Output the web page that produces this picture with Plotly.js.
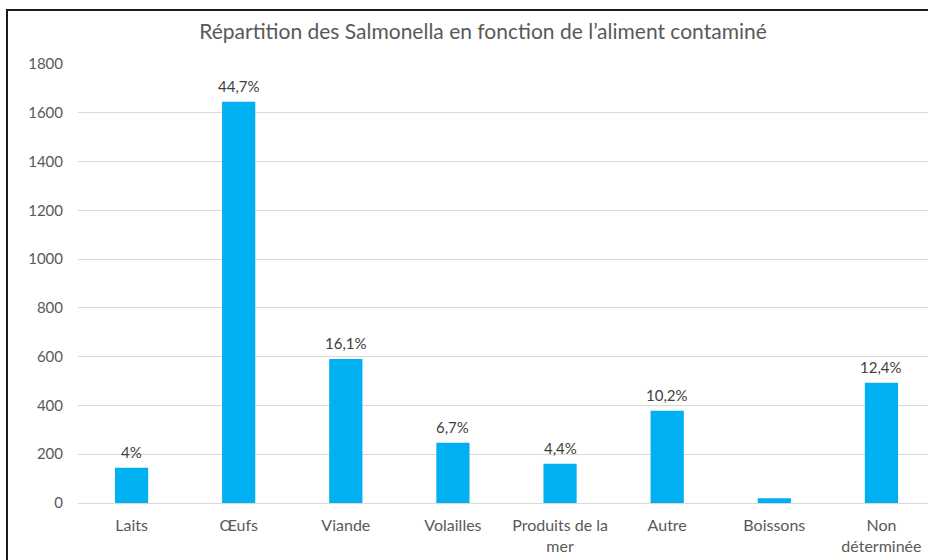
<!DOCTYPE html>
<html><head><meta charset="utf-8">
<script src="https://cdn.plot.ly/plotly-3.0.1.min.js"></script>
<style>
html,body{margin:0;padding:0;overflow:hidden;background:#fff;width:928px;height:560px;}
#chart{position:absolute;left:0;top:0;width:935px;height:560px;}
#frame{position:absolute;left:6px;top:9px;width:940px;height:600px;border-left:2px solid #1a1a1a;border-top:2px solid #1a1a1a;pointer-events:none;}
</style></head>
<body>
<div id="chart"></div>
<div id="frame"></div>
<script>
const categories = ["Laits", "Œufs", "Viande", "Volailles", "Produits de la<br>mer", "Autre", "Boissons", "Non<br>déterminée"];
const counts = [145, 1645, 590, 247, 161, 378, 19, 493];
const labels = ["4%", "44,7%", "16,1%", "6,7%", "4,4%", "10,2%", "", "12,4%"];
const yTicks = [0, 200, 400, 600, 800, 1000, 1200, 1400, 1600, 1800];

const font = "Lato, 'Open Sans', sans-serif";
const xs = categories.map((c, i) => i);
const annotations = labels.map((t, i) => ({
  x: xs[i], y: counts[i], xref: 'x', yref: 'y', text: t, showarrow: false,
  xanchor: 'center', yanchor: 'bottom', yshift: 5,
  font: {family: font, size: 15, color: '#404040'}
})).filter(a => a.text !== "");

Plotly.newPlot('chart', [{
  type: 'bar',
  x: xs,
  y: counts,
  marker: {color: '#00B0F0'},
  hoverinfo: 'none'
}], {
  width: 935, height: 560,
  margin: {l: 78, r: 0, t: 64, b: 57},
  paper_bgcolor: '#fff', plot_bgcolor: '#fff',
  bargap: 0.69,
  showlegend: false,
  annotations: annotations,
  title: {text: "Répartition des Salmonella en fonction de l’aliment contaminé",
          font: {family: font, size: 21, color: '#595959'}, xref: 'container', x: 483/935, xanchor: 'center', y: 0.943, yanchor: 'middle'},
  xaxis: {
    range: [-0.5, 7.5], tickmode: 'array', tickvals: xs, ticktext: categories,
    showgrid: false, zeroline: false, showline: false, ticks: '', ticklabelstandoff: 11,
    tickfont: {family: font, size: 16, color: '#595959'}, fixedrange: true
  },
  yaxis: {
    range: [0, 1800], tickmode: 'array', tickvals: yTicks, ticktext: yTicks.map(String),
    showgrid: true, gridcolor: '#d9d9d9', gridwidth: 1, zeroline: true, zerolinecolor: '#d9d9d9', zerolinewidth: 1,
    showline: false, ticks: '', ticklabelstandoff: 14,
    tickfont: {family: font, size: 15, color: '#595959'}, fixedrange: true
  }
}, {displayModeBar: false, staticPlot: true});
</script>
</body></html>
